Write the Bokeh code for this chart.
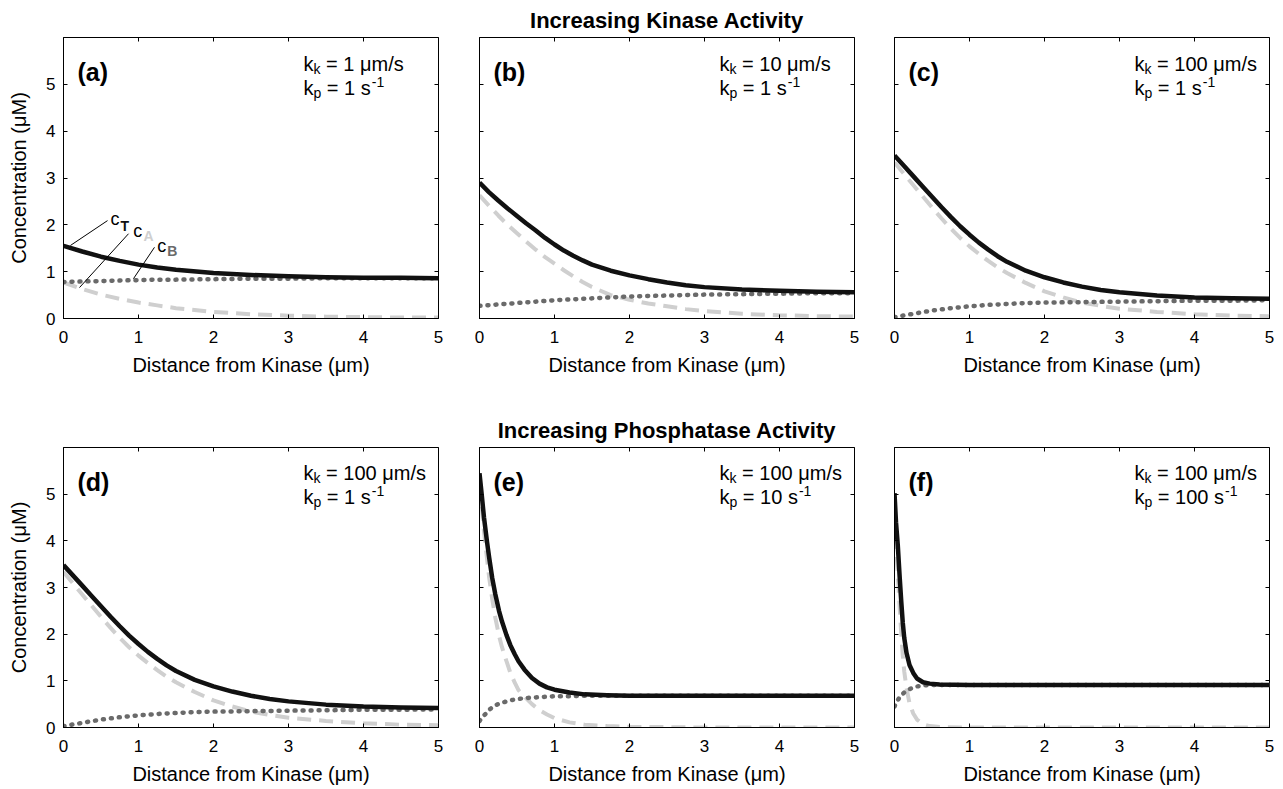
from bokeh.plotting import figure
from bokeh.layouts import gridplot
from bokeh.models import Range1d, FixedTicker, LinearAxis, CustomJSTickFormatter, Label, Title
from bokeh.embed import file_html
from bokeh.resources import INLINE

FONT = "Liberation Sans"

# ---------------- data ----------------
# panel (a): k_k = 1 um/s, k_p = 1 1/s
xa = [0, 0.25, 0.5, 0.75, 1, 1.25, 1.5, 2, 2.5, 3, 3.5, 4, 4.5, 5]
a_cT = [1.55, 1.43, 1.32, 1.23, 1.15, 1.09, 1.04, 0.97, 0.93, 0.90, 0.88, 0.87, 0.87, 0.86]
a_cA = [0.77, 0.63, 0.51, 0.42, 0.34, 0.28, 0.22, 0.14, 0.09, 0.06, 0.04, 0.03, 0.02, 0.02]
a_cB = [0.78, 0.79, 0.80, 0.81, 0.82, 0.83, 0.83, 0.84, 0.85, 0.85, 0.86, 0.86, 0.86, 0.86]

# panel (b): k_k = 10 um/s, k_p = 1 1/s
xb = [0, 0.125, 0.25, 0.375, 0.5, 0.625, 0.75, 0.875, 1, 1.125, 1.25, 1.375, 1.5, 1.75, 2,
      2.25, 2.5, 2.75, 3, 3.5, 4, 4.5, 5]
b_cT = [2.90, 2.70, 2.52, 2.35, 2.19, 2.03, 1.88, 1.72, 1.58, 1.45, 1.34, 1.24, 1.15, 1.02, 0.92,
        0.84, 0.77, 0.71, 0.67, 0.62, 0.59, 0.57, 0.56]
b_cA = [2.63, 2.41, 2.20, 2.00, 1.82, 1.64, 1.47, 1.31, 1.17, 1.03, 0.90, 0.78, 0.67, 0.50, 0.40,
        0.32, 0.26, 0.20, 0.16, 0.10, 0.07, 0.05, 0.04]
b_cB = [0.27, 0.285, 0.30, 0.315, 0.33, 0.345, 0.36, 0.375, 0.39, 0.40, 0.41, 0.42, 0.43, 0.45, 0.47,
        0.48, 0.49, 0.50, 0.51, 0.52, 0.53, 0.54, 0.54]

# panel (c) and (d): k_k = 100 um/s, k_p = 1 1/s
xc = [0, 0.125, 0.25, 0.375, 0.5, 0.625, 0.75, 0.875, 1, 1.125, 1.25, 1.375, 1.5, 1.75, 2,
      2.25, 2.5, 2.75, 3, 3.5, 4, 4.5, 5]
c_cT = [3.48, 3.26, 3.04, 2.82, 2.60, 2.38, 2.17, 1.97, 1.79, 1.62, 1.47, 1.33, 1.21, 1.02, 0.88,
        0.77, 0.68, 0.61, 0.56, 0.49, 0.45, 0.43, 0.42]
c_cA = [3.33, 3.09, 2.85, 2.61, 2.37, 2.14, 1.92, 1.72, 1.54, 1.38, 1.23, 1.09, 0.97, 0.76, 0.58,
        0.45, 0.34, 0.27, 0.21, 0.14, 0.09, 0.06, 0.05]
c_cB = [0.03, 0.065, 0.10, 0.135, 0.17, 0.195, 0.22, 0.24, 0.26, 0.275, 0.29, 0.30, 0.31, 0.33, 0.34,
        0.345, 0.35, 0.355, 0.36, 0.37, 0.38, 0.38, 0.39]

# panel (e): k_k = 100 um/s, k_p = 10 1/s
xe = [0, 0.03, 0.06, 0.1, 0.13, 0.17, 0.21, 0.26, 0.3, 0.36, 0.41, 0.47, 0.52, 0.6, 0.7,
      0.8, 0.9, 1.0, 1.2, 1.4, 1.7, 2.0, 3, 4, 5]
e_cT = [5.45, 4.98, 4.50, 3.98, 3.63, 3.20, 2.86, 2.50, 2.27, 1.98, 1.77, 1.57, 1.42, 1.24, 1.06,
        0.94, 0.86, 0.81, 0.75, 0.71, 0.69, 0.68, 0.68, 0.68, 0.68]
e_cA = [5.20, 4.72, 4.20, 3.62, 3.20, 2.75, 2.36, 1.97, 1.72, 1.42, 1.18, 0.96, 0.80, 0.66, 0.50,
        0.37, 0.28, 0.20, 0.11, 0.06, 0.03, 0.015, 0.0, 0.0, 0.0]
e_cB = [0.14, 0.20, 0.26, 0.32, 0.38, 0.43, 0.47, 0.51, 0.53, 0.56, 0.58, 0.60, 0.61, 0.63, 0.64,
        0.65, 0.66, 0.67, 0.67, 0.68, 0.68, 0.68, 0.68, 0.68, 0.68]

# panel (f): k_k = 100 um/s, k_p = 100 1/s
xf = [0, 0.02, 0.044, 0.07, 0.09, 0.11, 0.13, 0.16, 0.2, 0.25, 0.3, 0.38, 0.47, 0.6, 1, 2, 3, 4, 5]
f_cT = [5.02, 4.40, 3.90, 3.20, 2.70, 2.25, 1.92, 1.60, 1.34, 1.17, 1.05, 0.97, 0.94, 0.92, 0.91,
        0.91, 0.91, 0.91, 0.91]
f_cA = [4.60, 3.95, 3.30, 2.55, 2.00, 1.55, 1.20, 0.85, 0.52, 0.30, 0.17, 0.07, 0.03, 0.01, 0.0,
        0.0, 0.0, 0.0, 0.0]
f_cB = [0.45, 0.52, 0.59, 0.65, 0.69, 0.72, 0.75, 0.78, 0.82, 0.86, 0.88, 0.90, 0.91, 0.91, 0.91,
        0.91, 0.91, 0.91, 0.91]

panel_tags = ["(a)", "(b)", "(c)", "(d)", "(e)", "(f)"]
kk_values = ["1", "10", "100", "100", "100", "100"]
kp_values = ["1", "1", "1", "1", "10", "100"]
x_ticks = [0, 1, 2, 3, 4, 5]
y_ticks = [0, 1, 2, 3, 4, 5]
row_titles = ["Increasing Kinase Activity", "Increasing Phosphatase Activity"]
x_label = "Distance from Kinase (\u03bcm)"
y_label = "Concentration (\u03bcM)"

COL_T = "#111111"
COL_A = "#cfcfcf"
COL_B = "#6a6a6a"

# Arial / Liberation Sans advance widths (per 1000 em) for layout of composite labels
W = {' ': 278, '=': 584, '0': 556, '1': 556, 's': 500, 'k': 500, 'p': 556,
     '\u03bc': 576, 'm': 833, '/': 278}


def tw(s, size):
    return sum(W[c] for c in s) * size / 1000.0


def lab(p, text, dx, dy, size, style="normal", color="black"):
    # dx, dy: pixels from the top-left corner of the frame (dy downward, to the baseline)
    p.add_layout(Label(x=0, y=6, x_offset=dx, y_offset=-dy, text=text,
                       text_font=FONT, text_font_size=f"{size}px", text_font_style=style,
                       text_color=color, text_baseline="alphabetic", text_align="left"))


def make_panel(i, x, cT, cA, cB, row, col):
    fh = 281 if row == 0 else 280
    p = figure(frame_width=375, frame_height=fh,
               x_range=Range1d(0, 5), y_range=Range1d(0, 6),
               output_backend="svg", toolbar_location=None,
               min_border_left=63 if col == 0 else (27 if col == 1 else 26),
               min_border_right=14,
               min_border_top=37 if row == 0 else 67,
               min_border_bottom=62,
               background_fill_color="white", border_fill_color="white",
               outline_line_color="black", outline_line_width=1, outline_line_alpha=1.0)
    p.xgrid.visible = False
    p.ygrid.visible = False

    bottom = p.below[0]
    left = p.left[0]
    for ax in (bottom, left):
        ax.axis_line_color = "black"
        ax.major_tick_in = 4
        ax.major_tick_out = 0
        ax.major_tick_line_color = "black"
        ax.minor_tick_line_color = None
        ax.major_label_text_font = FONT
        ax.major_label_text_font_size = "17px"
        ax.major_label_text_color = "black"
        ax.axis_label_text_font = FONT
        ax.axis_label_text_font_size = "20px"
        ax.axis_label_text_font_style = "normal"
        ax.axis_label_text_color = "black"
    bottom.ticker = FixedTicker(ticks=x_ticks)
    left.ticker = FixedTicker(ticks=y_ticks)
    bottom.major_label_standoff = 12
    bottom.axis_label = x_label
    bottom.axis_label_standoff = 8
    if col == 0:
        left.major_label_standoff = 8
        left.axis_label = y_label
        left.axis_label_standoff = 13
    else:
        left.formatter = CustomJSTickFormatter(code="return ''")
        left.major_label_text_font_size = "1px"
        left.major_label_standoff = 0

    # mirrored tick axes (top/right), no labels
    top = LinearAxis(ticker=FixedTicker(ticks=x_ticks), formatter=CustomJSTickFormatter(code="return ''"))
    right = LinearAxis(ticker=FixedTicker(ticks=y_ticks), formatter=CustomJSTickFormatter(code="return ''"))
    for ax in (top, right):
        ax.axis_line_color = None
        ax.major_tick_in = 4
        ax.major_tick_out = 0
        ax.major_tick_line_color = "black"
        ax.minor_tick_line_color = None
        ax.major_label_standoff = 0
        ax.major_label_text_font_size = "1px"
    p.add_layout(top, "above")
    p.add_layout(right, "right")

    p.line(x, cA, line_color=COL_A, line_width=4, line_dash="14 8", line_cap="butt")
    p.line(x, cB, line_color=COL_B, line_width=4.5, line_dash="1 7", line_cap="round")
    p.line(x, cT, line_color=COL_T, line_width=4.5, line_join="round")

    # panel tag
    lab(p, panel_tags[i], 14, 34.7, 25, style="bold")

    # rate constants
    dx0 = 240
    top1 = 26 if row == 0 else 25.7
    top2 = 50 if row == 0 else 49.7
    sp = tw(" ", 20)
    lab(p, "k", dx0, top1, 20)
    lab(p, "k", dx0 + 10, top1 + 5, 14)
    lab(p, f"= {kk_values[i]} \u03bcm/s", dx0 + 17 + sp, top1, 20)
    lab(p, "k", dx0, top2, 20)
    lab(p, "p", dx0 + 10, top2 + 5, 14)
    rest = f"= {kp_values[i]} s"
    lab(p, rest, dx0 + 17.8 + sp, top2, 20)
    lab(p, "-1", dx0 + 17.8 + sp + tw(rest, 20) + 1, top2 - 6, 14)

    if col == 1:
        p.add_layout(Title(text=row_titles[row], align="center", text_font=FONT,
                           text_font_size="22px", text_font_style="bold",
                           text_color="black", standoff=9), "above")
    return p


pa = make_panel(0, xa, a_cT, a_cA, a_cB, 0, 0)
pb = make_panel(1, xb, b_cT, b_cA, b_cB, 0, 1)
pc = make_panel(2, xc, c_cT, c_cA, c_cB, 0, 2)
pd = make_panel(3, xc, c_cT, c_cA, c_cB, 1, 0)
pe = make_panel(4, xe, e_cT, e_cA, e_cB, 1, 1)
pf = make_panel(5, xf, f_cT, f_cA, f_cB, 1, 2)

# curve labels with leader lines in panel (a)
pa.segment(x0=[0.587, 0.867, 1.213], y0=[2.09, 1.81, 1.52],
           x1=[0.093, 0.213, 0.933], y1=[1.56, 0.66, 0.85], line_color="black", line_width=1)
lab(pa, "c", 47, 181.3, 18)
lab(pa, "T", 57, 188, 14, style="bold", color=COL_T)
lab(pa, "c", 69.7, 193, 18)
lab(pa, "A", 80, 198, 14, style="bold", color=COL_A)
lab(pa, "c", 93.7, 208, 18)
lab(pa, "B", 103.7, 213, 14, style="bold", color=COL_B)

grid = gridplot([[pa, pb, pc], [pd, pe, pf]], toolbar_location=None)

open("out.html", "w").write(file_html(grid, INLINE))
